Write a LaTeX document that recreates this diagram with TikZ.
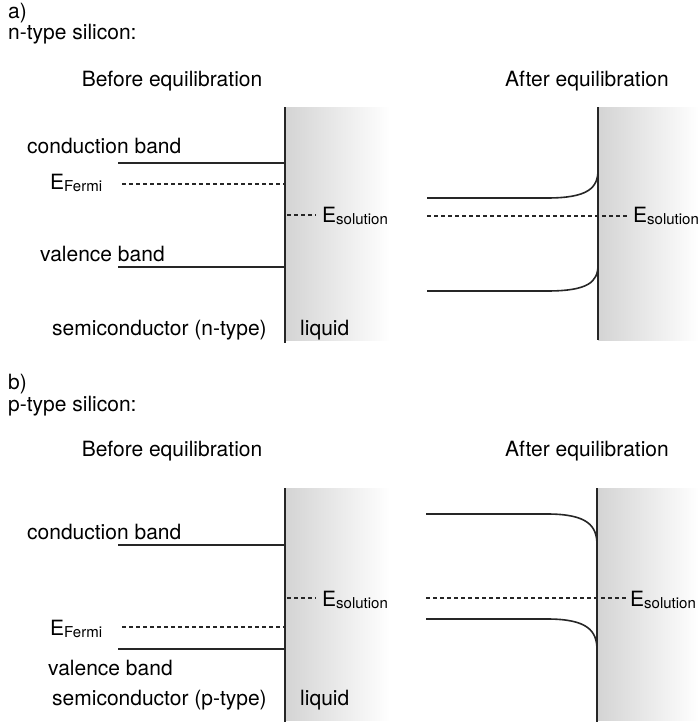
\documentclass[tikz,border=0pt]{standalone}
\usepackage{fontspec}
\setmainfont{TeX Gyre Heros}
\usetikzlibrary{positioning}
\newcommand{\Elevel}[1]{E\raisebox{-2.5pt}{\fontsize{15}{15}\selectfont #1}}

\begin{document}
\begin{tikzpicture}[x=1pt, y=-1pt,
  lbl/.style={inner sep=0pt, anchor=base west, font=\fontsize{21}{25}\selectfont},
  head/.style={lbl, anchor=base},
  band/.style={line width=1.6pt, draw=black!85},
  level/.style={line width=1.3pt, draw=black!85, dash pattern=on 4pt off 3pt},
  iface/.style={line width=1.8pt, draw=black!85},
  liquidbox/.style={left color=black!17, right color=white, draw=none}]

\useasboundingbox (0,0) rectangle (699,725);

% a) n-type silicon
\shade[liquidbox] (285,107) rectangle (390,340);
\shade[liquidbox] (598,107) rectangle (699,340);

\node[lbl] (a) at (8,19) {a)};
\node[lbl] (ntype) at (8,40) {n-type silicon:};
\node[head] (nbefore) at (172,86) {Before equilibration};
\node[head] (nafter) at (587,86) {After equilibration};
\node[lbl] (ncbL) at (27,153) {conduction band};
\node[lbl] (nefL) at (50,189) {\Elevel{Fermi}};
\node[lbl] (nesL) at (322,222) {\Elevel{solution}};
\node[lbl] (nvbL) at (40,261) {valence band};
\node[lbl] (nsemi) at (52,335) {semiconductor (n-type)};
\node[lbl] (nliq) at (300,335) {liquid};
\node[lbl] (nesR) at (633,222) {\Elevel{solution}};

\coordinate (ntop) at (285,107);  \coordinate (nbot) at (285,343);
\coordinate (ncb1) at (118,163);  \coordinate (ncb2) at (285,163);
\coordinate (nef1) at (122,184);  \coordinate (nef2) at (285,184);
\coordinate (nes1) at (287,215);  \coordinate (nes2) at (316,215);
\coordinate (nvb1) at (118,267);  \coordinate (nvb2) at (285,267);

\draw[iface] (ntop) -- (nbot);
\draw[band] (ncb1) -- (ncb2);
\draw[level] (nef1) -- (nef2);
\draw[level] (nes1) -- (nes2);
\draw[band] (nvb1) -- (nvb2);

\coordinate (mtop) at (598,107);  \coordinate (mbot) at (598,340);
\coordinate (mcb1) at (427,198);  \coordinate (mcb2) at (598,170);
\coordinate (mes1) at (427,216);  \coordinate (mes2) at (628,216);
\coordinate (mvb1) at (427,291);  \coordinate (mvb2) at (598,265);

\draw[iface] (mtop) -- (mbot);
\draw[band] (mcb1) -- (547,198) .. controls (588,198) and (598,188) .. (mcb2);
\draw[level] (mes1) -- (mes2);
\draw[band] (mvb1) -- (547,291) .. controls (588,291) and (598,282) .. (mvb2);

% b) p-type silicon
\shade[liquidbox] (285,488) rectangle (390,720);
\shade[liquidbox] (597,488) rectangle (699,720);

\node[lbl] (b) at (8,389) {b)};
\node[lbl] (ptype) at (8,411) {p-type silicon:};
\node[head] (pbefore) at (172,456) {Before equilibration};
\node[head] (pafter) at (587,456) {After equilibration};
\node[lbl] (pcbL) at (27,539) {conduction band};
\node[lbl] (pesL) at (322,606) {\Elevel{solution}};
\node[lbl] (pefL) at (50,635) {\Elevel{Fermi}};
\node[lbl] (pvbL) at (48,675) {valence band};
\node[lbl] (psemi) at (52,705) {semiconductor (p-type)};
\node[lbl] (pliq) at (300,705) {liquid};
\node[lbl] (pesR) at (630,606) {\Elevel{solution}};

\coordinate (ptop) at (285,488);  \coordinate (pbot) at (285,722);
\coordinate (pcb1) at (118,545);  \coordinate (pcb2) at (285,545);
\coordinate (pes1) at (287,598);  \coordinate (pes2) at (316,598);
\coordinate (pef1) at (122,627);  \coordinate (pef2) at (285,627);
\coordinate (pvb1) at (118,649);  \coordinate (pvb2) at (285,649);

\draw[iface] (ptop) -- (pbot);
\draw[band] (pcb1) -- (pcb2);
\draw[level] (pes1) -- (pes2);
\draw[level] (pef1) -- (pef2);
\draw[band] (pvb1) -- (pvb2);

\coordinate (qtop) at (597,488);  \coordinate (qbot) at (597,722);
\coordinate (qcb1) at (426,514);  \coordinate (qcb2) at (597,545);
\coordinate (qes1) at (426,598);  \coordinate (qes2) at (628,598);
\coordinate (qvb1) at (426,619);  \coordinate (qvb2) at (597,650);

\draw[iface] (qtop) -- (qbot);
\draw[band] (qcb1) -- (547,514) .. controls (588,514) and (597,526) .. (qcb2);
\draw[level] (qes1) -- (qes2);
\draw[band] (qvb1) -- (547,619) .. controls (588,619) and (597,631) .. (qvb2);
\end{tikzpicture}
\end{document}
